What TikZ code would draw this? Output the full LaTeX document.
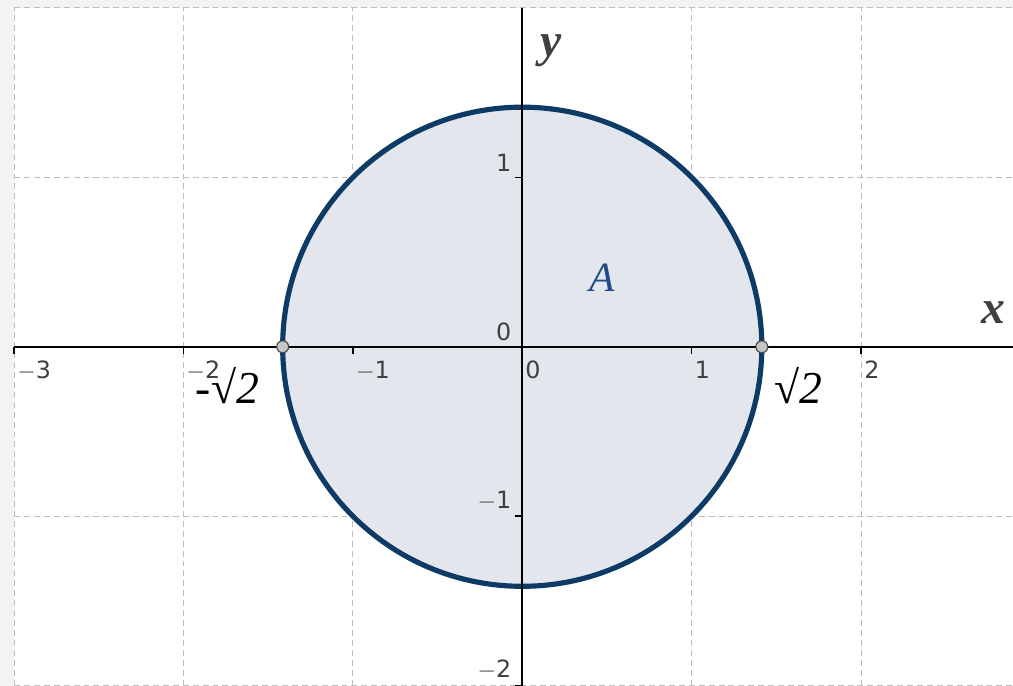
\documentclass[tikz,border=0pt]{standalone}
\usepackage{fontspec}
\setmainfont{Liberation Serif}
\setsansfont{DejaVu Sans}
\definecolor{rimblue}{HTML}{0E3A66}
\definecolor{discfill}{HTML}{E3E7ED}
\definecolor{gridgray}{HTML}{BDBDBD}
\definecolor{pagegray}{HTML}{F2F4F4}
\definecolor{labelblue}{HTML}{1F4B86}
\begin{document}
\begin{tikzpicture}[x=3cm,y=3cm,
    gridline/.style={gridgray,dashed,dash pattern=on 3pt off 2pt,line width=0.5pt},
    ticklab/.style={font=\sffamily\fontsize{12}{12}\selectfont,text=black!75,inner sep=1pt},
    axislab/.style={font=\fontsize{24}{24}\selectfont\bfseries\itshape,text=black!75},
    rootlab/.style={font=\fontsize{23}{23}\selectfont}]
  % page and plot area
  \fill[pagegray] (-3.083,-2.0) rectangle (2.897,2.047);
  \useasboundingbox (-3.083,-2.0) rectangle (2.897,2.047);
  \fill[white] (-3,-2) rectangle (2.897,2);
  \foreach \k in {-3,...,2} \draw[gridline] (\k,-2) -- (\k,2);
  \foreach \k in {-2,...,2} \draw[gridline] (-3,\k) -- (2.897,\k);
  % disc
  \filldraw[fill=discfill,draw=rimblue,line width=2.6pt] (0,0) circle [radius={sqrt(2)}];
  % axes
  \coordinate (xl) at (-3,0);
  \coordinate (xr) at (2.897,0);
  \coordinate (yb) at (0,-2);
  \coordinate (yt) at (0,2);
  \draw[line width=0.8pt] (xl) -- (xr);
  \draw[line width=0.8pt] (yb) -- (yt);
  \foreach \k in {-3,...,2} {
    \draw[line width=0.8pt] (\k,0) -- (\k,-0.04);
    \node[ticklab,anchor=north west] (tx\k) at (\k+0.005,-0.07) {\ifnum\k<0 $-$\the\numexpr-\k\relax\else\k\fi};
  }
  \foreach \k in {-2,...,1} {
    \draw[line width=0.8pt] (0,\k) -- (-0.04,\k);
    \node[ticklab,anchor=south east] (ty\k) at (-0.05,\k+0.02) {\ifnum\k<0 $-$\the\numexpr-\k\relax\else\k\fi};
  }
  \node[axislab] (ylab) at (0.17,1.75) {y};
  \node[axislab] (xlab) at (2.78,0.2) {x};
  % points and labels
  \filldraw[fill=gray!45,draw=black!70,line width=0.6pt] ({sqrt(2)},0) circle [radius=3pt];
  \filldraw[fill=gray!45,draw=black!70,line width=0.6pt] ({-sqrt(2)},0) circle [radius=3pt];
  \node[font=\fontsize{21}{21}\selectfont\itshape,text=labelblue] (alab) at (0.47,0.41) {A};
  \node[rootlab] (rlab) at (1.633,-0.23) {√\textit{2}};
  \node[rootlab] (llab) at (-1.74,-0.23) {-√\textit{2}};
\end{tikzpicture}
\end{document}
